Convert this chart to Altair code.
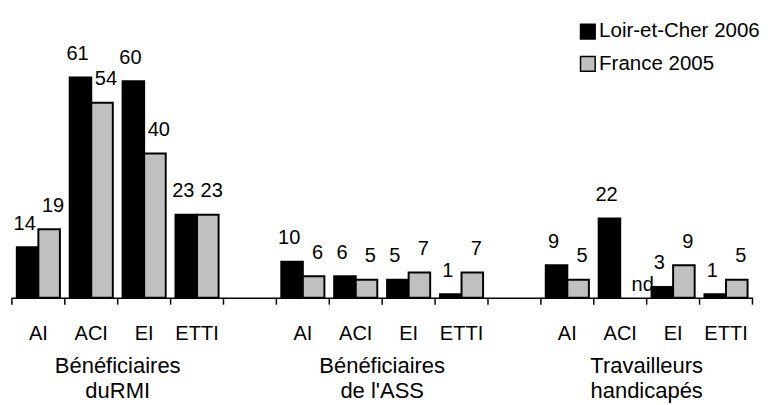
import altair as alt
import pandas as pd

# ---- data ----
group_keys = ["RMI", "ASS", "TH"]
group_titles = ["Bénéficiaires\nduRMI", "Bénéficiaires\nde l'ASS", "Travailleurs\nhandicapés"]
categories = ["AI", "ACI", "EI", "ETTI"]
series_names = ["Loir-et-Cher 2006", "France 2005"]
loir_values = [14, 61, 60, 23, 10, 6, 5, 1, 9, 22, 3, 1]
france_values = [19, 54, 40, 23, 6, 5, 7, 7, 5, None, 9, 5]

# ---- build tables ----
slots = []
for gi, g in enumerate(group_keys):
    for c in categories:
        slots.append(f"{g}|{c}")
    if gi < len(group_keys) - 1:
        slots.append(f"gap{gi}")

rows = []
i = 0
for g in group_keys:
    for c in categories:
        for s, vals in zip(series_names, [loir_values, france_values]):
            v = vals[i]
            rows.append({
                "slot": f"{g}|{c}",
                "series": s,
                "val": 0 if v is None else v,
                "label": "nd" if v is None else str(v),
                "known": v is not None,
            })
        i += 1
df = pd.DataFrame(rows)
slots_df = pd.DataFrame({"slot": slots})
titles_df = pd.DataFrame({"slot": [f"{g}|ACI" for g in group_keys], "title": group_titles})

FONT = "Liberation Sans"
FS = 20.5

x_axis = alt.Axis(
    title=None,
    labelExpr="indexof(datum.value,'|')>=0 ? split(datum.value,'|')[1] : ''",
    labelAngle=0,
    labelFontSize=FS,
    labelFont=FONT,
    labelColor="black",
    labelBaseline="alphabetic",
    labelPadding=43,
    ticks=False,
    domainColor="black",
    domainWidth=1.5,
    grid=False,
)
x_scale = alt.Scale(domain=slots, paddingInner=0, paddingOuter=0)
x_enc = alt.X("slot:N", scale=x_scale, axis=x_axis)
xoff = alt.XOffset("series:N", scale=alt.Scale(domain=series_names, paddingOuter=0.227, paddingInner=0))
y_enc = alt.Y("val:Q", scale=alt.Scale(domain=[0, 79], nice=False, zero=True), axis=None)

base = alt.Chart(df)

bars = base.transform_filter("datum.known").mark_bar(stroke="black", strokeWidth=2).encode(
    x=x_enc,
    xOffset=xoff,
    y=y_enc,
    color=alt.Color(
        "series:N",
        scale=alt.Scale(domain=series_names, range=["#000000", "#c0c0c0"]),
        legend=alt.Legend(
            title=None,
            orient="none",
            legendX=579,
            legendY=9,
            symbolType="square",
            symbolSize=225,
            symbolStrokeColor="black",
            symbolStrokeWidth=1.5,
            symbolOpacity=1,
            labelFontSize=21,
            labelFont=FONT,
            labelColor="black",
            labelOffset=1,
            labelLimit=0,
            rowPadding=11,
        ),
    ),
)

text_style = dict(fontSize=FS, font=FONT, color="black", baseline="alphabetic", align="center")

labels_a = base.transform_filter(
    f"datum.known && datum.series == '{series_names[0]}'"
).mark_text(dy=-18, dx=-3, **text_style).encode(x=x_enc, xOffset=xoff, y=y_enc, text="label:N")

labels_b = base.transform_filter(
    f"datum.known && datum.series == '{series_names[1]}'"
).mark_text(dy=-18, dx=4, **text_style).encode(x=x_enc, xOffset=xoff, y=y_enc, text="label:N")

nd_labels = base.transform_filter("!datum.known").mark_text(
    dy=-7, dx=12, **text_style
).encode(x=x_enc, xOffset=xoff, y=y_enc, text="label:N")

ticks = alt.Chart(slots_df).mark_rule(color="black", strokeWidth=1.5).encode(
    x=alt.X("slot:N", scale=x_scale, axis=x_axis, bandPosition=0),
    y=alt.value(292),
    y2=alt.value(299),
)
last_tick = alt.Chart(slots_df.tail(1)).mark_rule(color="black", strokeWidth=1.5).encode(
    x=alt.X("slot:N", scale=x_scale, axis=x_axis, bandPosition=1),
    y=alt.value(292),
    y2=alt.value(299),
)

group_text = alt.Chart(titles_df).mark_text(
    fontSize=22.5, font=FONT, color="black", baseline="alphabetic", align="center",
    lineBreak="\n", lineHeight=26
).encode(
    x=alt.X("slot:N", scale=x_scale, axis=x_axis, bandPosition=1),
    y=alt.value(369),
    text="title:N",
)

chart = alt.layer(bars, labels_a, labels_b, nd_labels, ticks, last_tick, group_text).properties(
    width=758,
    height=292,
    autosize=alt.AutoSizeParams(type="none"),
    padding={"left": 4, "top": 0, "right": 20, "bottom": 105},
).configure_view(stroke=None)

chart.save("out.html", embed_options={"renderer": "svg", "actions": False})
